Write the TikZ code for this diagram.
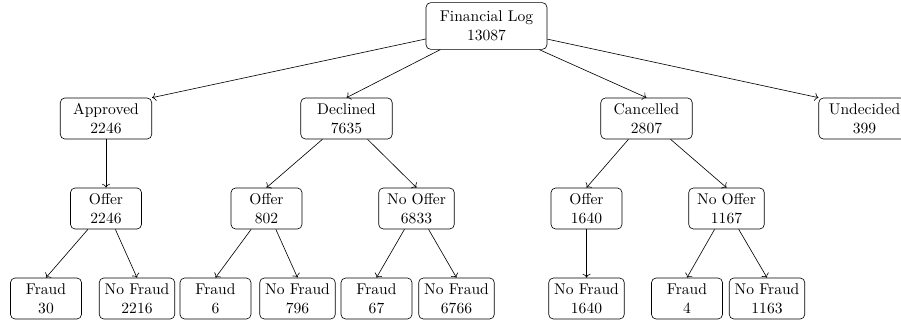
\documentclass[tikz,border=0pt]{standalone}
\usetikzlibrary{arrows.meta}
\begin{document}
\begin{tikzpicture}[x=0.643pt,y=-0.643pt,
  box/.style={draw, rounded corners=3pt, align=center, inner xsep=2pt, inner ysep=2pt, line width=0.4pt},
  rootbox/.style={box, minimum width=77.8pt, minimum height=30pt},
  lvlone/.style={box, minimum width=58.8pt, minimum height=26.4pt},
  small/.style={box, minimum width=45.7pt, minimum height=26.4pt},
  wide/.style={box, minimum width=48.6pt, minimum height=26.4pt},
  arr/.style={->, line width=0.4pt}]
\useasboundingbox (0,0) rectangle (901,320);
% root
\node[rootbox] (root) at (486.5,26) {Financial Log\\13087};
% level 1
\node[lvlone] (appr) at (106,118.5) {Approved\\2246};
\node[lvlone] (decl) at (346.5,118.5) {Declined\\7635};
\node[lvlone] (canc) at (646.5,118.5) {Cancelled\\2807};
\node[lvlone] (und) at (864.5,118.5) {Undecided\\399};
% level 2
\node[small] (oa) at (106,208.5) {Offer\\2246};
\node[small] (od) at (266.5,208.5) {Offer\\802};
\node[wide] (nod) at (416.5,208.5) {No Offer\\6833};
\node[small] (oc) at (586.5,208.5) {Offer\\1640};
\node[wide] (noc) at (726.5,208.5) {No Offer\\1167};
% level 3
\node[small] (f1) at (46,298.5) {Fraud\\30};
\node[wide] (nf1) at (137,298.5) {No Fraud\\2216};
\node[small] (f2) at (215.5,298.5) {Fraud\\6};
\node[wide] (nf2) at (297.5,298.5) {No Fraud\\796};
\node[small] (f3) at (376.5,298.5) {Fraud\\67};
\node[wide] (nf3) at (456.5,298.5) {No Fraud\\6766};
\node[wide] (nf4) at (586.5,298.5) {No Fraud\\1640};
\node[small] (f5) at (687,298.5) {Fraud\\4};
\node[wide] (nf5) at (767,298.5) {No Fraud\\1163};
% edges
\draw[arr] (root) -- (appr.north east);
\draw[arr] (root) -- (decl.north);
\draw[arr] (root) -- (canc.north);
\draw[arr] (root) -- (und.north west);
\draw[arr] (appr) -- (oa.north);
\draw[arr] (decl) -- (od.north);
\draw[arr] (decl) -- (nod.north);
\draw[arr] (canc) -- (oc.north);
\draw[arr] (canc) -- (noc.north);
\draw[arr] (oa) -- (f1.north);
\draw[arr] (oa) -- (nf1.north);
\draw[arr] (od) -- (f2.north);
\draw[arr] (od) -- (nf2.north);
\draw[arr] (nod) -- (f3.north);
\draw[arr] (nod) -- (nf3.north);
\draw[arr] (oc) -- (nf4.north);
\draw[arr] (noc) -- (f5.north);
\draw[arr] (noc) -- (nf5.north);
\end{tikzpicture}
\end{document}
